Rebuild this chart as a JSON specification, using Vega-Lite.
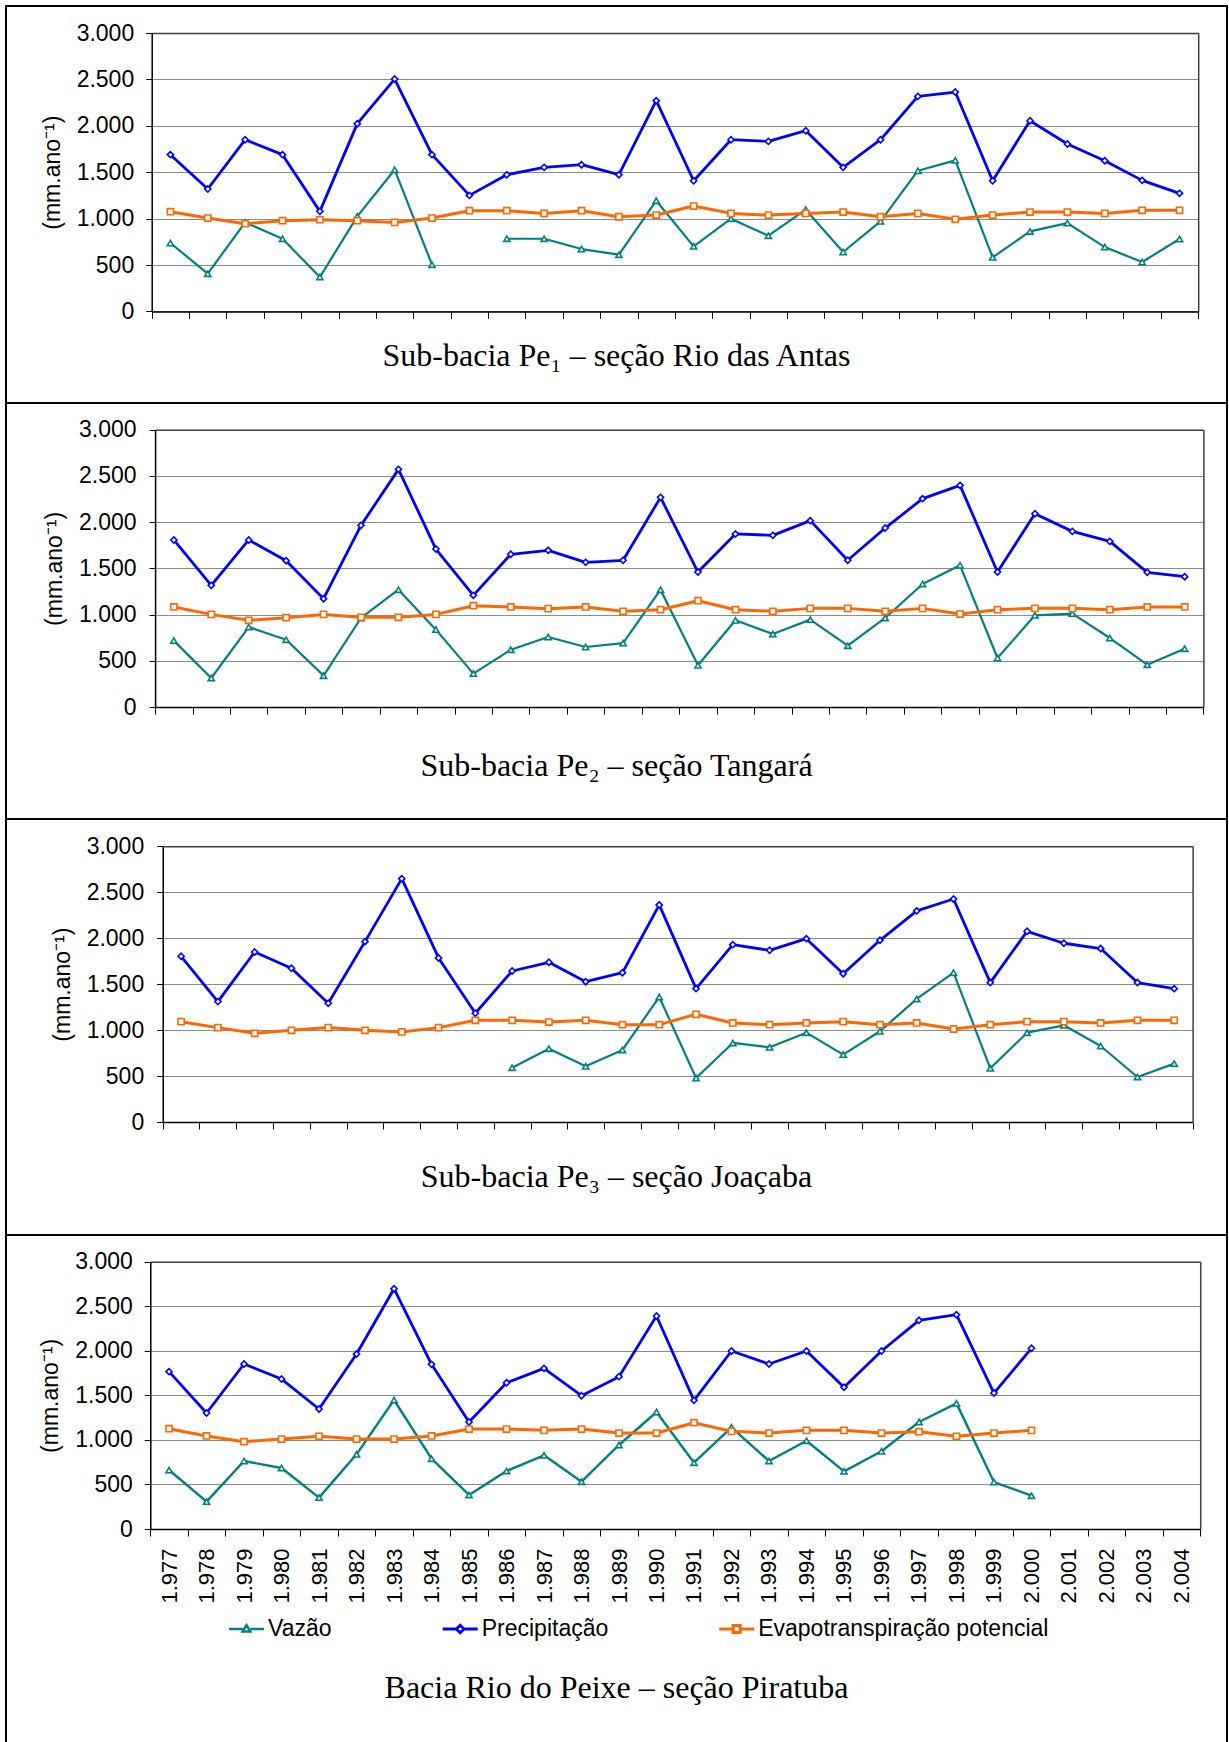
{
  "$schema": "https://vega.github.io/schema/vega-lite/v6.json",
  "background": "white",
  "padding": {"left": 5, "top": 5, "right": 0, "bottom": -4},
  "bounds": "flush",
  "spacing": 0,
  "config": {
    "view": {"stroke": "black", "strokeWidth": 2},
    "axis": {"labelFont": "Liberation Sans", "labelFontSize": 23, "labelColor": "black", "titleFont": "Liberation Sans", "titleFontSize": 23, "titleFontWeight": "normal", "titleColor": "black", "labelOverlap": false}
  },
  "resolve": {"scale": {"color": "independent"}, "legend": {"color": "independent"}},
  "datasets": {
    "dados": [
      {"painel":1,"ano":1977,"vazao":737,"precipitacao":1689,"evapotranspiracao":1074},
      {"painel":1,"ano":1978,"vazao":406,"precipitacao":1319,"evapotranspiracao":1006},
      {"painel":1,"ano":1979,"vazao":959,"precipitacao":1850,"evapotranspiracao":945},
      {"painel":1,"ano":1980,"vazao":783,"precipitacao":1689,"evapotranspiracao":977},
      {"painel":1,"ano":1981,"vazao":370,"precipitacao":1078,"evapotranspiracao":988},
      {"painel":1,"ano":1982,"vazao":1024,"precipitacao":2023,"evapotranspiracao":977},
      {"painel":1,"ano":1983,"vazao":1527,"precipitacao":2504,"evapotranspiracao":959},
      {"painel":1,"ano":1984,"vazao":503,"precipitacao":1689,"evapotranspiracao":1006},
      {"painel":1,"ano":1985,"vazao":null,"precipitacao":1250,"evapotranspiracao":1085},
      {"painel":1,"ano":1986,"vazao":783,"precipitacao":1473,"evapotranspiracao":1085},
      {"painel":1,"ano":1987,"vazao":783,"precipitacao":1552,"evapotranspiracao":1056},
      {"painel":1,"ano":1988,"vazao":672,"precipitacao":1581,"evapotranspiracao":1085},
      {"painel":1,"ano":1989,"vazao":611,"precipitacao":1473,"evapotranspiracao":1020},
      {"painel":1,"ano":1990,"vazao":1193,"precipitacao":2271,"evapotranspiracao":1038},
      {"painel":1,"ano":1991,"vazao":701,"precipitacao":1408,"evapotranspiracao":1135},
      {"painel":1,"ano":1992,"vazao":999,"precipitacao":1850,"evapotranspiracao":1056},
      {"painel":1,"ano":1993,"vazao":816,"precipitacao":1832,"evapotranspiracao":1038},
      {"painel":1,"ano":1994,"vazao":1096,"precipitacao":1947,"evapotranspiracao":1056},
      {"painel":1,"ano":1995,"vazao":640,"precipitacao":1552,"evapotranspiracao":1071},
      {"painel":1,"ano":1996,"vazao":970,"precipitacao":1850,"evapotranspiracao":1020},
      {"painel":1,"ano":1997,"vazao":1516,"precipitacao":2317,"evapotranspiracao":1056},
      {"painel":1,"ano":1998,"vazao":1628,"precipitacao":2364,"evapotranspiracao":992},
      {"painel":1,"ano":1999,"vazao":582,"precipitacao":1408,"evapotranspiracao":1038},
      {"painel":1,"ano":2000,"vazao":862,"precipitacao":2055,"evapotranspiracao":1071},
      {"painel":1,"ano":2001,"vazao":952,"precipitacao":1804,"evapotranspiracao":1071},
      {"painel":1,"ano":2002,"vazao":693,"precipitacao":1624,"evapotranspiracao":1056},
      {"painel":1,"ano":2003,"vazao":532,"precipitacao":1412,"evapotranspiracao":1089},
      {"painel":1,"ano":2004,"vazao":780,"precipitacao":1272,"evapotranspiracao":1089},
      {"painel":2,"ano":1977,"vazao":718,"precipitacao":1807,"evapotranspiracao":1082},
      {"painel":2,"ano":1978,"vazao":314,"precipitacao":1316,"evapotranspiracao":1002},
      {"painel":2,"ano":1979,"vazao":865,"precipitacao":1807,"evapotranspiracao":938},
      {"painel":2,"ano":1980,"vazao":728,"precipitacao":1583,"evapotranspiracao":966},
      {"painel":2,"ano":1981,"vazao":339,"precipitacao":1172,"evapotranspiracao":1002},
      {"painel":2,"ano":1982,"vazao":963,"precipitacao":1965,"evapotranspiracao":970},
      {"painel":2,"ano":1983,"vazao":1269,"precipitacao":2571,"evapotranspiracao":970},
      {"painel":2,"ano":1984,"vazao":837,"precipitacao":1709,"evapotranspiracao":1002},
      {"painel":2,"ano":1985,"vazao":361,"precipitacao":1208,"evapotranspiracao":1096},
      {"painel":2,"ano":1986,"vazao":620,"precipitacao":1652,"evapotranspiracao":1082},
      {"painel":2,"ano":1987,"vazao":757,"precipitacao":1695,"evapotranspiracao":1064},
      {"painel":2,"ano":1988,"vazao":649,"precipitacao":1565,"evapotranspiracao":1082},
      {"painel":2,"ano":1989,"vazao":692,"precipitacao":1587,"evapotranspiracao":1035},
      {"painel":2,"ano":1990,"vazao":1269,"precipitacao":2268,"evapotranspiracao":1053},
      {"painel":2,"ano":1991,"vazao":451,"precipitacao":1460,"evapotranspiracao":1150},
      {"painel":2,"ano":1992,"vazao":938,"precipitacao":1872,"evapotranspiracao":1053},
      {"painel":2,"ano":1993,"vazao":790,"precipitacao":1857,"evapotranspiracao":1035},
      {"painel":2,"ano":1994,"vazao":945,"precipitacao":2016,"evapotranspiracao":1067},
      {"painel":2,"ano":1995,"vazao":663,"precipitacao":1587,"evapotranspiracao":1067},
      {"painel":2,"ano":1996,"vazao":963,"precipitacao":1936,"evapotranspiracao":1035},
      {"painel":2,"ano":1997,"vazao":1331,"precipitacao":2254,"evapotranspiracao":1067},
      {"painel":2,"ano":1998,"vazao":1533,"precipitacao":2398,"evapotranspiracao":1006},
      {"painel":2,"ano":1999,"vazao":530,"precipitacao":1460,"evapotranspiracao":1053},
      {"painel":2,"ano":2000,"vazao":992,"precipitacao":2091,"evapotranspiracao":1067},
      {"painel":2,"ano":2001,"vazao":1010,"precipitacao":1900,"evapotranspiracao":1067},
      {"painel":2,"ano":2002,"vazao":746,"precipitacao":1792,"evapotranspiracao":1053},
      {"painel":2,"ano":2003,"vazao":458,"precipitacao":1457,"evapotranspiracao":1082},
      {"painel":2,"ano":2004,"vazao":631,"precipitacao":1410,"evapotranspiracao":1082},
      {"painel":3,"ano":1977,"vazao":null,"precipitacao":1803,"evapotranspiracao":1092},
      {"painel":3,"ano":1978,"vazao":null,"precipitacao":1310,"evapotranspiracao":1027},
      {"painel":3,"ano":1979,"vazao":null,"precipitacao":1850,"evapotranspiracao":965},
      {"painel":3,"ano":1980,"vazao":null,"precipitacao":1673,"evapotranspiracao":998},
      {"painel":3,"ano":1981,"vazao":null,"precipitacao":1292,"evapotranspiracao":1027},
      {"painel":3,"ano":1982,"vazao":null,"precipitacao":1963,"evapotranspiracao":998},
      {"painel":3,"ano":1983,"vazao":null,"precipitacao":2648,"evapotranspiracao":980},
      {"painel":3,"ano":1984,"vazao":null,"precipitacao":1785,"evapotranspiracao":1027},
      {"painel":3,"ano":1985,"vazao":null,"precipitacao":1183,"evapotranspiracao":1107},
      {"painel":3,"ano":1986,"vazao":591,"precipitacao":1643,"evapotranspiracao":1107},
      {"painel":3,"ano":1987,"vazao":798,"precipitacao":1738,"evapotranspiracao":1088},
      {"painel":3,"ano":1988,"vazao":606,"precipitacao":1527,"evapotranspiracao":1107},
      {"painel":3,"ano":1989,"vazao":784,"precipitacao":1625,"evapotranspiracao":1059},
      {"painel":3,"ano":1990,"vazao":1361,"precipitacao":2362,"evapotranspiracao":1059},
      {"painel":3,"ano":1991,"vazao":479,"precipitacao":1451,"evapotranspiracao":1172},
      {"painel":3,"ano":1992,"vazao":860,"precipitacao":1930,"evapotranspiracao":1078},
      {"painel":3,"ano":1993,"vazao":813,"precipitacao":1868,"evapotranspiracao":1059},
      {"painel":3,"ano":1994,"vazao":972,"precipitacao":1995,"evapotranspiracao":1078},
      {"painel":3,"ano":1995,"vazao":733,"precipitacao":1614,"evapotranspiracao":1092},
      {"painel":3,"ano":1996,"vazao":987,"precipitacao":1977,"evapotranspiracao":1059},
      {"painel":3,"ano":1997,"vazao":1339,"precipitacao":2297,"evapotranspiracao":1078},
      {"painel":3,"ano":1998,"vazao":1625,"precipitacao":2427,"evapotranspiracao":1012},
      {"painel":3,"ano":1999,"vazao":584,"precipitacao":1517,"evapotranspiracao":1059},
      {"painel":3,"ano":2000,"vazao":972,"precipitacao":2075,"evapotranspiracao":1092},
      {"painel":3,"ano":2001,"vazao":1052,"precipitacao":1945,"evapotranspiracao":1092},
      {"painel":3,"ano":2002,"vazao":827,"precipitacao":1887,"evapotranspiracao":1078},
      {"painel":3,"ano":2003,"vazao":490,"precipitacao":1517,"evapotranspiracao":1107},
      {"painel":3,"ano":2004,"vazao":635,"precipitacao":1451,"evapotranspiracao":1107},
      {"painel":4,"ano":1977,"vazao":662,"precipitacao":1766,"evapotranspiracao":1126},
      {"painel":4,"ano":1978,"vazao":307,"precipitacao":1302,"evapotranspiracao":1044},
      {"painel":4,"ano":1979,"vazao":763,"precipitacao":1852,"evapotranspiracao":980},
      {"painel":4,"ano":1980,"vazao":685,"precipitacao":1683,"evapotranspiracao":1010},
      {"painel":4,"ano":1981,"vazao":352,"precipitacao":1347,"evapotranspiracao":1040},
      {"painel":4,"ano":1982,"vazao":838,"precipitacao":1964,"evapotranspiracao":1010},
      {"painel":4,"ano":1983,"vazao":1448,"precipitacao":2697,"evapotranspiracao":1010},
      {"painel":4,"ano":1984,"vazao":789,"precipitacao":1848,"evapotranspiracao":1044},
      {"painel":4,"ano":1985,"vazao":382,"precipitacao":1201,"evapotranspiracao":1122},
      {"painel":4,"ano":1986,"vazao":651,"precipitacao":1642,"evapotranspiracao":1122},
      {"painel":4,"ano":1987,"vazao":827,"precipitacao":1803,"evapotranspiracao":1107},
      {"painel":4,"ano":1988,"vazao":531,"precipitacao":1496,"evapotranspiracao":1122},
      {"painel":4,"ano":1989,"vazao":943,"precipitacao":1710,"evapotranspiracao":1077},
      {"painel":4,"ano":1990,"vazao":1313,"precipitacao":2391,"evapotranspiracao":1077},
      {"painel":4,"ano":1991,"vazao":744,"precipitacao":1444,"evapotranspiracao":1193},
      {"painel":4,"ano":1992,"vazao":1141,"precipitacao":1998,"evapotranspiracao":1096},
      {"painel":4,"ano":1993,"vazao":763,"precipitacao":1852,"evapotranspiracao":1077},
      {"painel":4,"ano":1994,"vazao":991,"precipitacao":1998,"evapotranspiracao":1107},
      {"painel":4,"ano":1995,"vazao":647,"precipitacao":1590,"evapotranspiracao":1107},
      {"painel":4,"ano":1996,"vazao":872,"precipitacao":1998,"evapotranspiracao":1077},
      {"painel":4,"ano":1997,"vazao":1201,"precipitacao":2342,"evapotranspiracao":1092},
      {"painel":4,"ano":1998,"vazao":1410,"precipitacao":2405,"evapotranspiracao":1040},
      {"painel":4,"ano":1999,"vazao":527,"precipitacao":1526,"evapotranspiracao":1077},
      {"painel":4,"ano":2000,"vazao":374,"precipitacao":2028,"evapotranspiracao":1107}
    ]
  },
  "vconcat": [
    {
      "width": 1221, "height": 397,
      "data": {"name": "dados"},
      "transform": [{"filter": "datum.painel === 1"}],
      "title": {"text": "Sub-bacia Pe₁ – seção Rio das Antas", "orient": "bottom", "frame": "group", "anchor": "middle", "offset": -36.6, "baseline": "alphabetic", "font": "Liberation Serif", "fontSize": 32, "fontWeight": "normal", "color": "black"},
      "resolve": {"axis": {"x": "independent", "y": "independent"}},
      "layer": [
        {
          "mark": {"type": "line", "stroke": "#008080", "strokeWidth": 2.2, "strokeJoin": "round", "invalid": "break-paths-filter-domains"},
          "encoding": {
            "x": {"field": "ano", "type": "ordinal", "scale": {"type": "band", "domain": [1977,1978,1979,1980,1981,1982,1983,1984,1985,1986,1987,1988,1989,1990,1991,1992,1993,1994,1995,1996,1997,1998,1999,2000,2001,2002,2003,2004], "range": [145.7, 1192.2], "paddingInner": 0, "paddingOuter": 0}, "bandPosition": 0.5,
              "axis": {"orient": "bottom", "offset": -91.6, "labels": false, "title": null, "tickBand": "extent", "tickSize": 7, "tickColor": "black", "domainColor": "black", "domainWidth": 1.5, "grid": false}},
            "y": {"field": "vazao", "type": "quantitative", "scale": {"domain": [0, 3000], "range": [305.4, 27], "nice": false},
              "axis": {"orient": "left", "offset": -145.7, "values": [0,500,1000,1500,2000,2500,3000], "labelExpr": "replace(format(datum.value, ','), ',', '.')", "grid": true, "gridColor": "#8c8c8c", "gridWidth": 1, "tickSize": 6, "tickColor": "black", "domainColor": "black", "domainWidth": 1.5, "labelPadding": 12, "title": "(mm.ano⁻¹)", "titlePadding": 12}}
          }
        },
        {
          "mark": {"type": "line", "stroke": "#0000ff", "strokeWidth": 2.8, "strokeJoin": "round"},
          "encoding": {
            "x": {"field": "ano", "type": "ordinal", "bandPosition": 0.5, "axis": null},
            "y": {"field": "precipitacao", "type": "quantitative", "axis": null}
          }
        },
        {
          "mark": {"type": "line", "stroke": "#ff6600", "strokeWidth": 3, "strokeJoin": "round"},
          "encoding": {
            "x": {"field": "ano", "type": "ordinal", "bandPosition": 0.5, "axis": null},
            "y": {"field": "evapotranspiracao", "type": "quantitative", "axis": null}
          }
        },
        {
          "transform": [{"fold": ["vazao", "precipitacao", "evapotranspiracao"], "as": ["serie", "valor"]}, {"filter": "isValid(datum.valor)"}],
          "mark": {"type": "point", "filled": false, "fill": "white", "size": 38, "strokeWidth": 1.6, "opacity": 1, "shape": {"expr": "datum.serie === 'vazao' ? 'triangle-up' : datum.serie === 'precipitacao' ? 'diamond' : 'square'"}},
          "encoding": {
            "x": {"field": "ano", "type": "ordinal", "bandPosition": 0.5, "axis": {"orient": "top", "offset": -27, "labels": false, "ticks": false, "grid": false, "title": null, "domainColor": "#404040", "domainWidth": 1.5}},
            "y": {"field": "valor", "type": "quantitative", "axis": {"orient": "right", "offset": -28.8, "labels": false, "ticks": false, "grid": false, "title": null, "domainColor": "#404040", "domainWidth": 1.5}},
            "color": {"field": "serie", "type": "nominal", "scale": {"domain": ["vazao", "precipitacao", "evapotranspiracao"], "range": ["#008080", "#0000ff", "#ff6600"]}, "legend": null}
          }
        }
      ]
    },
    {
      "width": 1221, "height": 416,
      "data": {"name": "dados"},
      "transform": [{"filter": "datum.painel === 2"}],
      "title": {"text": "Sub-bacia Pe₂ – seção Tangará", "orient": "bottom", "frame": "group", "anchor": "middle", "offset": -43.3, "baseline": "alphabetic", "font": "Liberation Serif", "fontSize": 32, "fontWeight": "normal", "color": "black"},
      "resolve": {"axis": {"x": "independent", "y": "independent"}},
      "layer": [
        {
          "mark": {"type": "line", "stroke": "#008080", "strokeWidth": 2.2, "strokeJoin": "round", "invalid": "break-paths-filter-domains"},
          "encoding": {
            "x": {"field": "ano", "type": "ordinal", "scale": {"type": "band", "domain": [1977,1978,1979,1980,1981,1982,1983,1984,1985,1986,1987,1988,1989,1990,1991,1992,1993,1994,1995,1996,1997,1998,1999,2000,2001,2002,2003,2004], "range": [149.1, 1197.4], "paddingInner": 0, "paddingOuter": 0}, "bandPosition": 0.5,
              "axis": {"orient": "bottom", "offset": -112, "labels": false, "title": null, "tickBand": "extent", "tickSize": 7, "tickColor": "black", "domainColor": "black", "domainWidth": 1.5, "grid": false}},
            "y": {"field": "vazao", "type": "quantitative", "scale": {"domain": [0, 3000], "range": [304, 26.7], "nice": false},
              "axis": {"orient": "left", "offset": -149.1, "values": [0,500,1000,1500,2000,2500,3000], "labelExpr": "replace(format(datum.value, ','), ',', '.')", "grid": true, "gridColor": "#8c8c8c", "gridWidth": 1, "tickSize": 6, "tickColor": "black", "domainColor": "black", "domainWidth": 1.5, "labelPadding": 13, "title": "(mm.ano⁻¹)", "titlePadding": 12}}
          }
        },
        {
          "mark": {"type": "line", "stroke": "#0000ff", "strokeWidth": 2.8, "strokeJoin": "round"},
          "encoding": {
            "x": {"field": "ano", "type": "ordinal", "bandPosition": 0.5, "axis": null},
            "y": {"field": "precipitacao", "type": "quantitative", "axis": null}
          }
        },
        {
          "mark": {"type": "line", "stroke": "#ff6600", "strokeWidth": 3, "strokeJoin": "round"},
          "encoding": {
            "x": {"field": "ano", "type": "ordinal", "bandPosition": 0.5, "axis": null},
            "y": {"field": "evapotranspiracao", "type": "quantitative", "axis": null}
          }
        },
        {
          "transform": [{"fold": ["vazao", "precipitacao", "evapotranspiracao"], "as": ["serie", "valor"]}, {"filter": "isValid(datum.valor)"}],
          "mark": {"type": "point", "filled": false, "fill": "white", "size": 38, "strokeWidth": 1.6, "opacity": 1, "shape": {"expr": "datum.serie === 'vazao' ? 'triangle-up' : datum.serie === 'precipitacao' ? 'diamond' : 'square'"}},
          "encoding": {
            "x": {"field": "ano", "type": "ordinal", "bandPosition": 0.5, "axis": {"orient": "top", "offset": -26.7, "labels": false, "ticks": false, "grid": false, "title": null, "domainColor": "#404040", "domainWidth": 1.5}},
            "y": {"field": "valor", "type": "quantitative", "axis": {"orient": "right", "offset": -23.6, "labels": false, "ticks": false, "grid": false, "title": null, "domainColor": "#404040", "domainWidth": 1.5}},
            "color": {"field": "serie", "type": "nominal", "scale": {"domain": ["vazao", "precipitacao", "evapotranspiracao"], "range": ["#008080", "#0000ff", "#ff6600"]}, "legend": null}
          }
        }
      ]
    },
    {
      "width": 1221, "height": 416,
      "data": {"name": "dados"},
      "transform": [{"filter": "datum.painel === 3"}],
      "title": {"text": "Sub-bacia Pe₃ – seção Joaçaba", "orient": "bottom", "frame": "group", "anchor": "middle", "offset": -48.3, "baseline": "alphabetic", "font": "Liberation Serif", "fontSize": 32, "fontWeight": "normal", "color": "black"},
      "resolve": {"axis": {"x": "independent", "y": "independent"}},
      "layer": [
        {
          "mark": {"type": "line", "stroke": "#008080", "strokeWidth": 2.2, "strokeJoin": "round", "invalid": "break-paths-filter-domains"},
          "encoding": {
            "x": {"field": "ano", "type": "ordinal", "scale": {"type": "band", "domain": [1977,1978,1979,1980,1981,1982,1983,1984,1985,1986,1987,1988,1989,1990,1991,1992,1993,1994,1995,1996,1997,1998,1999,2000,2001,2002,2003,2004], "range": [156.7, 1186.6], "paddingInner": 0, "paddingOuter": 0}, "bandPosition": 0.5,
              "axis": {"orient": "bottom", "offset": -113, "labels": false, "title": null, "tickBand": "extent", "tickSize": 7, "tickColor": "black", "domainColor": "black", "domainWidth": 1.5, "grid": false}},
            "y": {"field": "vazao", "type": "quantitative", "scale": {"domain": [0, 3000], "range": [303, 27.3], "nice": false},
              "axis": {"orient": "left", "offset": -156.7, "values": [0,500,1000,1500,2000,2500,3000], "labelExpr": "replace(format(datum.value, ','), ',', '.')", "grid": true, "gridColor": "#8c8c8c", "gridWidth": 1, "tickSize": 6, "tickColor": "black", "domainColor": "black", "domainWidth": 1.5, "labelPadding": 13, "title": "(mm.ano⁻¹)", "titlePadding": 12}}
          }
        },
        {
          "mark": {"type": "line", "stroke": "#0000ff", "strokeWidth": 2.8, "strokeJoin": "round"},
          "encoding": {
            "x": {"field": "ano", "type": "ordinal", "bandPosition": 0.5, "axis": null},
            "y": {"field": "precipitacao", "type": "quantitative", "axis": null}
          }
        },
        {
          "mark": {"type": "line", "stroke": "#ff6600", "strokeWidth": 3, "strokeJoin": "round"},
          "encoding": {
            "x": {"field": "ano", "type": "ordinal", "bandPosition": 0.5, "axis": null},
            "y": {"field": "evapotranspiracao", "type": "quantitative", "axis": null}
          }
        },
        {
          "transform": [{"fold": ["vazao", "precipitacao", "evapotranspiracao"], "as": ["serie", "valor"]}, {"filter": "isValid(datum.valor)"}],
          "mark": {"type": "point", "filled": false, "fill": "white", "size": 38, "strokeWidth": 1.6, "opacity": 1, "shape": {"expr": "datum.serie === 'vazao' ? 'triangle-up' : datum.serie === 'precipitacao' ? 'diamond' : 'square'"}},
          "encoding": {
            "x": {"field": "ano", "type": "ordinal", "bandPosition": 0.5, "axis": {"orient": "top", "offset": -27.3, "labels": false, "ticks": false, "grid": false, "title": null, "domainColor": "#404040", "domainWidth": 1.5}},
            "y": {"field": "valor", "type": "quantitative", "axis": {"orient": "right", "offset": -34.4, "labels": false, "ticks": false, "grid": false, "title": null, "domainColor": "#404040", "domainWidth": 1.5}},
            "color": {"field": "serie", "type": "nominal", "scale": {"domain": ["vazao", "precipitacao", "evapotranspiracao"], "range": ["#008080", "#0000ff", "#ff6600"]}, "legend": null}
          }
        }
      ]
    },
    {
      "width": 1221, "height": 510,
      "data": {"name": "dados"},
      "transform": [{"filter": "datum.painel === 4"}],
      "title": {"text": "Bacia Rio do Peixe – seção Piratuba", "orient": "bottom", "frame": "group", "anchor": "middle", "offset": -46.7, "baseline": "alphabetic", "font": "Liberation Serif", "fontSize": 32, "fontWeight": "normal", "color": "black"},
      "resolve": {"axis": {"x": "independent", "y": "independent"}, "scale": {"color": "independent"}, "legend": {"color": "independent"}},
      "layer": [
        {
          "mark": {"type": "line", "strokeWidth": 2.4, "strokeJoin": "round", "invalid": "break-paths-filter-domains"},
          "encoding": {
            "x": {"field": "ano", "type": "ordinal", "scale": {"type": "band", "domain": [1977,1978,1979,1980,1981,1982,1983,1984,1985,1986,1987,1988,1989,1990,1991,1992,1993,1994,1995,1996,1997,1998,1999,2000,2001,2002,2003,2004], "range": [144.3, 1194.2], "paddingInner": 0, "paddingOuter": 0}, "bandPosition": 0.5,
              "axis": {"orient": "bottom", "offset": -216, "labels": true, "labelAngle": 270, "labelFontSize": {"condition": {"test": "datum.value >= 1977", "value": 22}, "value": 0}, "labelPadding": 12, "labelExpr": "datum.value >= 1977 ? replace(format(datum.value, ','), ',', '.') : ''", "title": null, "tickBand": "extent", "tickSize": 7, "tickColor": "black", "domainColor": "black", "domainWidth": 1.5, "grid": false}},
            "y": {"field": "vazao", "type": "quantitative", "scale": {"domain": [0, 3000], "range": [294, 26.7], "nice": false},
              "axis": {"orient": "left", "offset": -144.3, "values": [0,500,1000,1500,2000,2500,3000], "labelExpr": "replace(format(datum.value, ','), ',', '.')", "grid": true, "gridColor": "#8c8c8c", "gridWidth": 1, "tickSize": 6, "tickColor": "black", "domainColor": "black", "domainWidth": 1.5, "labelPadding": 12, "title": "(mm.ano⁻¹)", "titlePadding": 12}},
            "color": {"datum": "Vazão", "type": "nominal", "scale": {"range": ["#008080"]},
              "legend": {"orient": "none", "legendX": 216, "legendY": 382.5, "title": null, "padding": 0, "labelFont": "Liberation Sans", "labelFontSize": 23, "labelColor": "black", "labelLimit": 500, "symbolType": "M-5,0H-1.1M1.1,0H5M-1.1,0.7L0,-1.1L1.1,0.7Z", "symbolSize": 49, "symbolStrokeWidth": 2.4, "symbolOffset": 13, "labelOffset": 10}}
          }
        },
        {
          "mark": {"type": "line", "strokeWidth": 2.8, "strokeJoin": "round"},
          "encoding": {
            "x": {"field": "ano", "type": "ordinal", "bandPosition": 0.5, "axis": null},
            "y": {"field": "precipitacao", "type": "quantitative", "axis": null},
            "color": {"datum": "Precipitação", "type": "nominal", "scale": {"range": ["#0000ff"]},
              "legend": {"orient": "none", "legendX": 429.7, "legendY": 382.5, "title": null, "padding": 0, "labelFont": "Liberation Sans", "labelFontSize": 23, "labelColor": "black", "labelLimit": 500, "symbolType": "M-5,0H-1.1M1.1,0H5M-1.1,0L0,-1.1L1.1,0L0,1.1Z", "symbolSize": 49, "symbolStrokeWidth": 2.8, "symbolOffset": 13, "labelOffset": 10}}
          }
        },
        {
          "mark": {"type": "line", "strokeWidth": 3, "strokeJoin": "round"},
          "encoding": {
            "x": {"field": "ano", "type": "ordinal", "bandPosition": 0.5, "axis": null},
            "y": {"field": "evapotranspiracao", "type": "quantitative", "axis": null},
            "color": {"datum": "Evapotranspiração potencial", "type": "nominal", "scale": {"range": ["#ff6600"]},
              "legend": {"orient": "none", "legendX": 706.2, "legendY": 382.5, "title": null, "padding": 0, "labelFont": "Liberation Sans", "labelFontSize": 23, "labelColor": "black", "labelLimit": 500, "symbolType": "M-5,0H-1M1,0H5M-1,-1H1V1H-1Z", "symbolSize": 49, "symbolStrokeWidth": 3, "symbolOffset": 13, "labelOffset": 10}}
          }
        },
        {
          "transform": [{"fold": ["vazao", "precipitacao", "evapotranspiracao"], "as": ["serie", "valor"]}, {"filter": "isValid(datum.valor)"}],
          "mark": {"type": "point", "filled": false, "fill": "white", "size": 38, "strokeWidth": 1.6, "opacity": 1, "shape": {"expr": "datum.serie === 'vazao' ? 'triangle-up' : datum.serie === 'precipitacao' ? 'diamond' : 'square'"}},
          "encoding": {
            "x": {"field": "ano", "type": "ordinal", "bandPosition": 0.5, "axis": {"orient": "top", "offset": -26.7, "labels": false, "ticks": false, "grid": false, "title": null, "domainColor": "#404040", "domainWidth": 1.5}},
            "y": {"field": "valor", "type": "quantitative", "axis": {"orient": "right", "offset": -26.8, "labels": false, "ticks": false, "grid": false, "title": null, "domainColor": "#404040", "domainWidth": 1.5}},
            "color": {"field": "serie", "type": "nominal", "scale": {"domain": ["vazao", "precipitacao", "evapotranspiracao"], "range": ["#008080", "#0000ff", "#ff6600"]}, "legend": null}
          }
        }
      ]
    }
  ]
}
